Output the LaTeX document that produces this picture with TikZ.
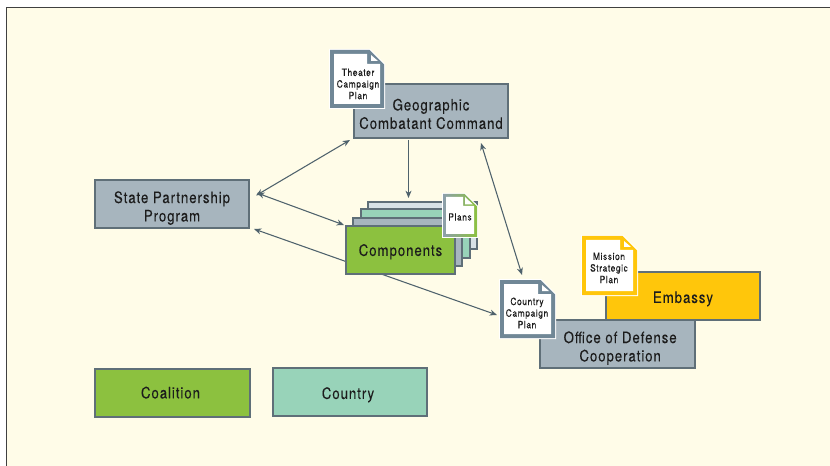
\documentclass[tikz,border=0pt]{standalone}
\usepackage{fontspec}
\setmainfont{TeX Gyre Heros}[FakeStretch=0.84,LetterSpace=6,FakeBold=0.06]
\definecolor{bgc}{HTML}{FFFCE8}
\definecolor{grayc}{HTML}{A7B5BE}
\definecolor{edgec}{HTML}{5F6F78}
\definecolor{greenc}{HTML}{8CC13F}
\definecolor{tealc}{HTML}{98D3B9}
\definecolor{palec}{HTML}{D8E2E6}
\definecolor{yellowc}{HTML}{FFC60B}
\definecolor{docc}{HTML}{708796}
\definecolor{linec}{HTML}{4F626C}
\definecolor{txtc}{HTML}{1C1C1C}
\usetikzlibrary{arrows.meta}
\tikzset{
  x=0.75pt,y=-0.75pt,
  boxstyle/.style={draw=edgec,line width=0.8pt,inner sep=0pt,outer sep=0pt,text=txtc,align=center,font=\fontsize{11.8}{13.8}\selectfont},
  doctext/.style={inner sep=0pt,text=txtc,align=center,font=\fontsize{7.5}{8.7}\selectfont},
  link/.style={draw=linec,line width=0.8pt,-{Stealth[length=5.5pt,width=4.5pt]}},
  dlink/.style={draw=linec,line width=0.8pt,{Stealth[length=5.5pt,width=4.5pt]}-{Stealth[length=5.5pt,width=4.5pt]}},
}
\newcommand{\st}{\rule[-0.4pt]{0pt}{13.4pt}}
\newcommand{\stm}{\rule[-1.2pt]{0pt}{12.6pt}}
\newcommand{\stb}{\rule[-1.9pt]{0pt}{11.9pt}}
\newcommand{\stt}{\rule{0pt}{14.9pt}}
\newcommand{\boxat}[7]{%
  \pgfmathsetmacro{\bw}{(#4-#2)*0.75}\pgfmathsetmacro{\bh}{(#5-#3)*0.75}%
  \node[boxstyle,fill=#6,minimum width=\bw pt,minimum height=\bh pt] (#1) at ({(#2+#4)/2},{(#3+#5)/2}) {#7};}
\newcommand{\docshapes}[5]{%
  \fill[white] (#1,#2) -- ({#3-15},#2) -- (#3,{#2+15}) -- (#3,#4) -- (#1,#4) -- cycle;
  \fill[#5] ({#1+1},{#2+1}) -- ({#3-15.5},{#2+1}) -- ({#3-1},{#2+15.5}) -- ({#3-1},{#4-1}) -- ({#1+1},{#4-1}) -- cycle;
  \fill[white] ({#1+5},{#2+5}) -- ({#3-18},{#2+5}) -- ({#3-18},{#2+15}) -- ({#3-5},{#2+15}) -- ({#3-5},{#4-5}) -- ({#1+5},{#4-5}) -- cycle;
  \fill[white] ({#3-14},{#2+6}) -- ({#3-7},{#2+12}) -- ({#3-14},{#2+12}) -- cycle;}
\begin{document}
\begin{tikzpicture}
\useasboundingbox (0,0) rectangle (830,466);
\fill[white] (0,0) rectangle (830,466);
\fill[bgc] (6,7) rectangle (830,466);
\draw[line width=0.7pt,color=black!75] (6,466) -- (6,7) -- (830,7);

\coordinate (spp1) at (256,195.5);
\coordinate (spp2) at (257,193);
\coordinate (spp3) at (254,229);
\coordinate (gcc1) at (350,140);
\coordinate (gcc2) at (408.5,140);
\coordinate (gcc3) at (481,143);
\coordinate (cmp1) at (344,225);
\coordinate (cmp2) at (408.5,198);
\coordinate (ccp1) at (497,315);
\coordinate (ccp2) at (522,275);

\draw[dlink] (spp1) -- (gcc1);
\draw[dlink] (spp2) -- (cmp1);
\draw[dlink] (spp3) -- (ccp1);
\draw[link] (gcc2) -- (cmp2);
\draw[dlink] (gcc3) -- (ccp2);

\boxat{gcc}{354}{84}{508}{138}{grayc}{\stt Geographic\\\stb Combatant Command}
\docshapes{329}{49}{385}{109}{docc}
\node[doctext] (tcp) at (358,84) {Theater\\Campaign\\Plan};

\boxat{spp}{95}{180}{249}{228}{grayc}{\stt State Partnership\\\stb Program}

\boxat{lay4}{368}{202}{477}{249}{palec}{}
\boxat{lay3}{361}{209}{470}{258}{tealc}{}
\boxat{lay2}{353}{218}{462}{266}{grayc}{}
\boxat{cmp}{346}{226}{455}{274}{greenc}{\stm Components}
\fill[white] (442,193) -- (465,193) -- (478,206) -- (478,238) -- (442,238) -- cycle;
\shade[left color=docc!80,right color=greenc] (443,194) -- (464.5,194) -- (477,206.5) -- (477,237) -- (443,237) -- cycle;
\fill[white] (446,197) -- (463,197) -- (463,206) -- (474,206) -- (474,234) -- (446,234) -- cycle;
\fill[white] (465,197) -- (473,204.5) -- (465,204.5) -- cycle;
\node[doctext] (pln) at (460,217) {Plans};

\boxat{emb}{606}{272}{760}{320}{yellowc}{\st Embassy}
\boxat{odc}{540}{320}{695}{368}{grayc}{\hspace*{4pt}\stt Office of Defense\\\hspace*{4pt}\stb Cooperation}
\docshapes{581}{235}{638}{296}{yellowc}
\node[doctext] (msp) at (609,268) {Mission\\Strategic\\Plan};
\docshapes{499}{279}{556}{339}{docc}
\node[doctext] (ccp) at (527,313) {Country\\Campaign\\Plan};

\boxat{coa}{95}{369}{250}{417}{greenc}{\stb Coalition\hspace*{3pt}}
\boxat{cty}{273}{368}{427}{416}{tealc}{\st Country\hspace*{3pt}}
\end{tikzpicture}
\end{document}
